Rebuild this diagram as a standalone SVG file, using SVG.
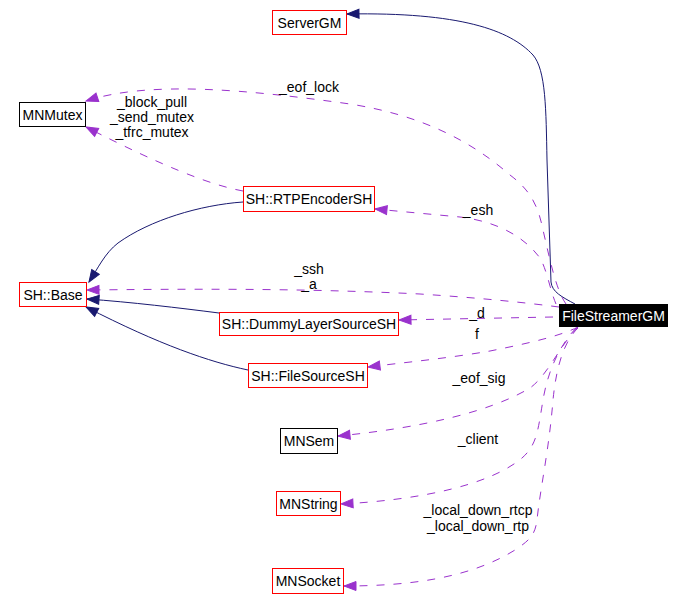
<svg xmlns="http://www.w3.org/2000/svg" width="686" height="611" viewBox="0 0 686 611">
<style>
  .node rect { fill: #ffffff; stroke: #ff0000; stroke-width: 1; }
  .node.blk rect { stroke: #000000; }
  .node.root rect { fill: #000000; stroke: #000000; }
  .node text { font-family: "Liberation Sans", Arial, sans-serif; font-size: 14px; fill: #000000; text-anchor: middle; }
  .node.root text { fill: #ffffff; }
  .inh { fill: none; stroke: #191970; stroke-width: 1; marker-end: url(#navy); }
  .use { fill: none; stroke: #9a32cd; stroke-width: 1; stroke-dasharray: 8,9; marker-end: url(#purple); }
  .lbl { font-family: "Liberation Sans", Arial, sans-serif; font-size: 14px; fill: #000000; text-anchor: middle; }
</style>
<defs>
  <marker id="navy" markerUnits="userSpaceOnUse" markerWidth="13" markerHeight="10" refX="12" refY="4.5" orient="auto" overflow="visible">
    <path d="M0,0 L12,4.5 L0,9 z" fill="#191970" stroke="#191970" stroke-width="1"/>
  </marker>
  <marker id="purple" markerUnits="userSpaceOnUse" markerWidth="13" markerHeight="10" refX="12" refY="4.5" orient="auto" overflow="visible">
    <path d="M0,0 L12,4.5 L0,9 z" fill="#9a32cd" stroke="#9a32cd" stroke-width="1"/>
  </marker>
</defs>
<rect x="0" y="0" width="686" height="611" fill="#ffffff"/>
<g id="connectors">
  <path class="inh" d="M575,304 C562,297 552,292 551,282 L547,160 C546,110 546,70 533,55 C510,30 460,12 347,14"/>
  <path class="use" d="M566,304 C556,290 550,260 543,230 C538,205 530,190 510,175 C470,140 420,115 350,104 C250,90 150,80 86,101"/>
  <path class="use" d="M243,191 C210,185 160,165 86,127"/>
  <path class="inh" d="M243,202 C200,205 150,220 118,243 C105,253 98,268 89,282"/>
  <path class="use" d="M556,304 C550,290 547,270 540,258 C525,238 500,222 460,217 L375,209"/>
  <path class="use" d="M559,307 C520,302 480,298 420,294 C300,288 180,289 87,290"/>
  <path class="inh" d="M219,313 C180,308 130,302 87,299"/>
  <path class="use" d="M553,317 L399,320"/>
  <path class="inh" d="M248,370 C210,362 160,345 86,307"/>
  <path class="use" d="M578,327 C560,336 530,343 490,351 C450,358 400,363 368,367"/>
  <path class="use" d="M578,327 C560,345 548,375 530,388 C490,412 420,428 338,436"/>
  <path class="use" d="M576,328 C560,345 548,370 543,400 C538,430 537,445 522,458 C490,485 420,500 341,504"/>
  <path class="use" d="M578,328 C560,345 555,380 553,400 C549,450 540,490 537,520 C535,535 530,540 515,550 C470,578 410,586 344,586"/>
  <text class="lbl" x="309" y="92">_eof_lock</text>
  <text class="lbl" x="152" y="107">_block_pull</text>
  <text class="lbl" x="152" y="122">_send_mutex</text>
  <text class="lbl" x="152" y="137">_tfrc_mutex</text>
  <text class="lbl" x="478" y="215">_esh</text>
  <text class="lbl" x="309" y="274">_ssh</text>
  <text class="lbl" x="309" y="289">_a</text>
  <text class="lbl" x="477" y="318">_d</text>
  <text class="lbl" x="477" y="339">f</text>
  <text class="lbl" x="479" y="383">_eof_sig</text>
  <text class="lbl" x="478" y="444">_client</text>
  <text class="lbl" x="478" y="515">_local_down_rtcp</text>
  <text class="lbl" x="478" y="531">_local_down_rtp</text>
</g>
<g id="ServerGM" class="node"><rect x="272.5" y="10.5" width="74" height="24"/><text x="309.5" y="27.5">ServerGM</text></g>
<g id="MNMutex" class="node blk"><rect x="19.5" y="102.5" width="66" height="24"/><text x="52.5" y="119.5">MNMutex</text></g>
<g id="RTPEncoderSH" class="node"><rect x="243.5" y="186.5" width="131" height="25"/><text x="309" y="204">SH::RTPEncoderSH</text></g>
<g id="Base" class="node"><rect x="19.5" y="282.5" width="67" height="24"/><text x="53" y="299.5">SH::Base</text></g>
<g id="DummyLayerSourceSH" class="node"><rect x="219.5" y="312.5" width="179" height="23"/><text x="309" y="329">SH::DummyLayerSourceSH</text></g>
<g id="FileSourceSH" class="node"><rect x="248.5" y="363.5" width="119" height="24"/><text x="308" y="380.5">SH::FileSourceSH</text></g>
<g id="FileStreamerGM" class="node root"><rect x="559.5" y="304.5" width="108" height="22"/><text x="613.5" y="321">FileStreamerGM</text></g>
<g id="MNSem" class="node blk"><rect x="280.5" y="428.5" width="57" height="25"/><text x="309" y="446">MNSem</text></g>
<g id="MNString" class="node"><rect x="276.5" y="491.5" width="64" height="24"/><text x="308.5" y="508.5">MNString</text></g>
<g id="MNSocket" class="node"><rect x="272.5" y="568.5" width="71" height="25"/><text x="308" y="586">MNSocket</text></g>
</svg>
